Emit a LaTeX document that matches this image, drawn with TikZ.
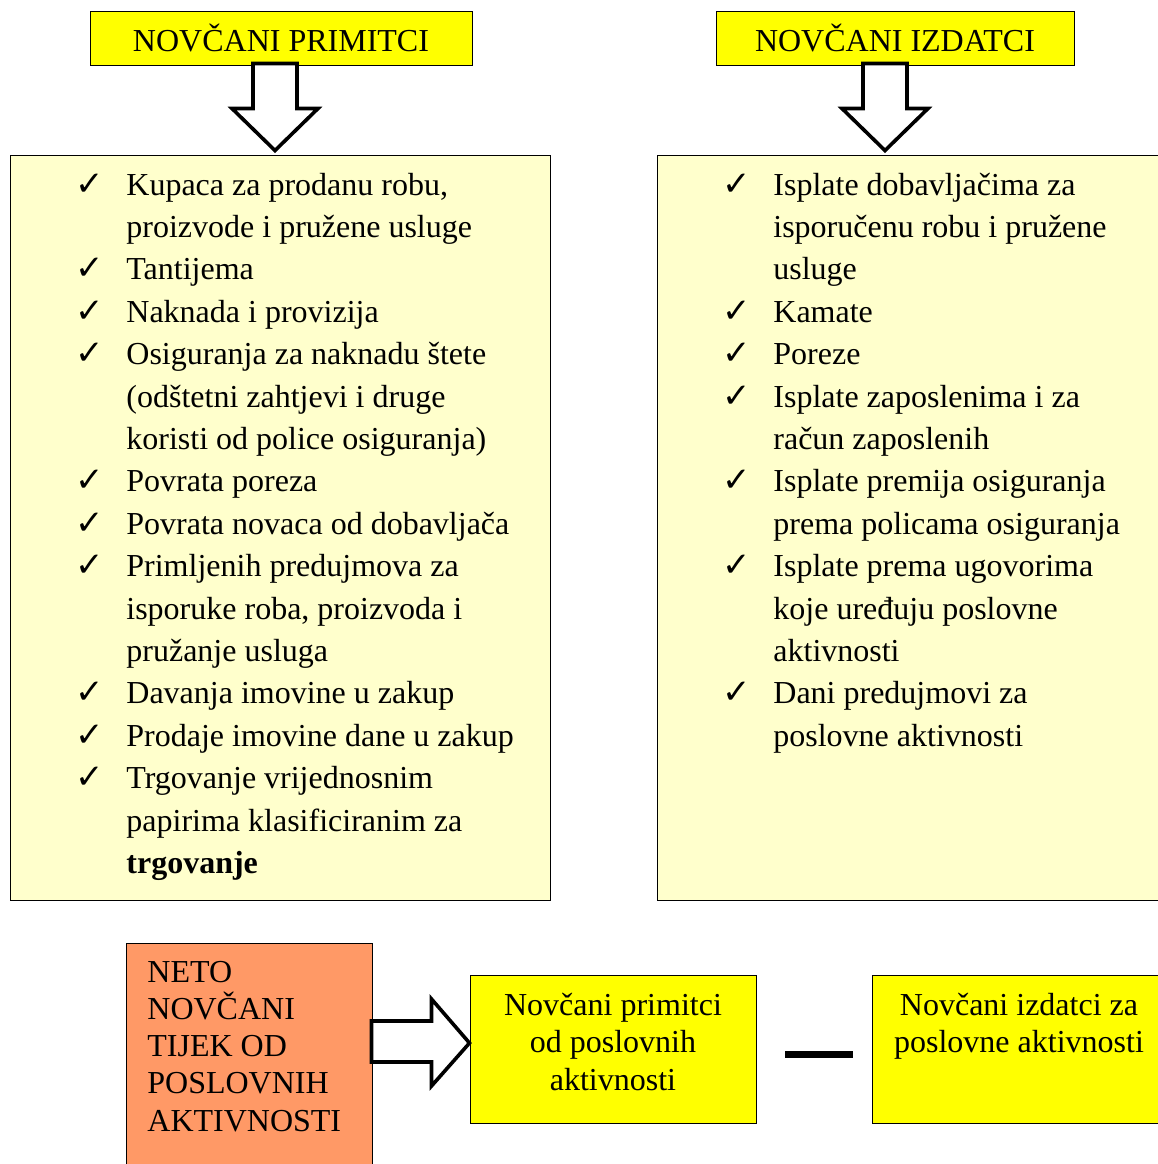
\documentclass[tikz,border=0pt]{standalone}
\usepackage{fontspec}
\setmainfont{Liberation Serif}
\newfontfamily\chkfont{DejaVu Sans}
\usetikzlibrary{calc}
\definecolor{hdryellow}{HTML}{FFFF00}
\definecolor{listyellow}{HTML}{FFFFCC}
\definecolor{netoorange}{HTML}{FF9966}
\newcommand{\chk}{\makebox[0pt][r]{{\chkfont\fontsize{17}{17}\selectfont ✓}\hspace{11pt}}}
\begin{document}
\begin{tikzpicture}[x=0.5pt,y=-0.5pt,
  box/.style={draw, line width=0.5pt, inner sep=0pt},
  listtext/.style={inner sep=0pt, align=left, anchor=base west, font=\fontsize{16}{21.2}\selectfont},
  boxtext/.style={inner sep=0pt, align=center, anchor=base, font=\fontsize{16}{18.7}\selectfont},
  blockarrow/.style={draw, fill=white, line width=1.8pt, line join=miter}]
\useasboundingbox (0,0) rectangle (1158,1164);
% headers
\node[box, fill=hdryellow, minimum width=191pt, minimum height=27pt, font=\fontsize{16}{20}\selectfont] (hdrL) at (281,38) {NOVČANI PRIMITCI};
\node[box, fill=hdryellow, minimum width=179pt, minimum height=27pt, font=\fontsize{16}{20}\selectfont] (hdrR) at (895,38) {NOVČANI IZDATCI};
% list boxes (base anchor sits on the last line)
\node[box, fill=listyellow, minimum width=270pt, minimum height=372.5pt] (boxL) at (280,527.5) {};
\node[box, fill=listyellow, minimum width=253pt, minimum height=372.5pt] (boxR) at (910,527.5) {};
\node[listtext] (listL) at (126,873.4) {\chk Kupaca za prodanu robu,\\
proizvode i pružene usluge\\
\chk Tantijema\\
\chk Naknada i provizija\\
\chk Osiguranja za naknadu štete\\
(odštetni zahtjevi i druge\\
koristi od police osiguranja)\\
\chk Povrata poreza\\
\chk Povrata novaca od dobavljača\\
\chk Primljenih predujmova za\\
isporuke roba, proizvoda i\\
pružanje usluga\\
\chk Davanja imovine u zakup\\
\chk Prodaje imovine dane u zakup\\
\chk Trgovanje vrijednosnim\\
papirima klasificiranim za\\
\textbf{trgovanje}};
\node[listtext] (listR) at (773,746.2) {\chk Isplate dobavljačima za\\
isporučenu robu i pružene\\
usluge\\
\chk Kamate\\
\chk Poreze\\
\chk Isplate zaposlenima i za\\
račun zaposlenih\\
\chk Isplate premija osiguranja\\
prema policama osiguranja\\
\chk Isplate prema ugovorima\\
koje uređuju poslovne\\
aktivnosti\\
\chk Dani predujmovi za\\
poslovne aktivnosti};
% down arrows
\draw[blockarrow] ($(hdrL.south)+(-28,-2)$) -- ++(44,0) -- ++(0,45) -- ++(21,0)
  -- ++(-43,42) -- ++(-43,-42) -- ++(21,0) -- cycle;
\draw[blockarrow] ($(hdrR.south)+(-32,-2)$) -- ++(44,0) -- ++(0,45) -- ++(21,0)
  -- ++(-43,42) -- ++(-43,-42) -- ++(21,0) -- cycle;
% bottom row
\node[box, fill=netoorange, minimum width=123pt, minimum height=114pt] (neto) at (249,1057) {};
\node[inner sep=0pt, align=left, anchor=base west, font=\fontsize{16}{18.6}\selectfont] (netotxt) at (147,1131) {NETO\\NOVČANI\\TIJEK OD\\POSLOVNIH\\AKTIVNOSTI};
\node[box, fill=hdryellow, minimum width=143pt, minimum height=74pt] (prim) at (613,1049) {};
\node[boxtext] (primtxt) at (613,1090) {Novčani primitci\\od poslovnih\\aktivnosti};
\node[box, fill=hdryellow, minimum width=145pt, minimum height=74pt] (izd) at (1017,1049) {};
\node[boxtext] (izdtxt) at (1019,1052.5) {Novčani izdatci za\\poslovne aktivnosti};
\node[fill=black, inner sep=0pt, minimum width=34pt, minimum height=3.5pt] (minus) at (819,1054.5) {};
\draw[blockarrow] ($(prim.west)+(0,-6)$) -- ++(-38,43) -- ++(0,-24) -- ++(-60,0)
  -- ++(0,-41) -- ++(60,0) -- ++(0,-22) -- cycle;
\end{tikzpicture}
\end{document}
